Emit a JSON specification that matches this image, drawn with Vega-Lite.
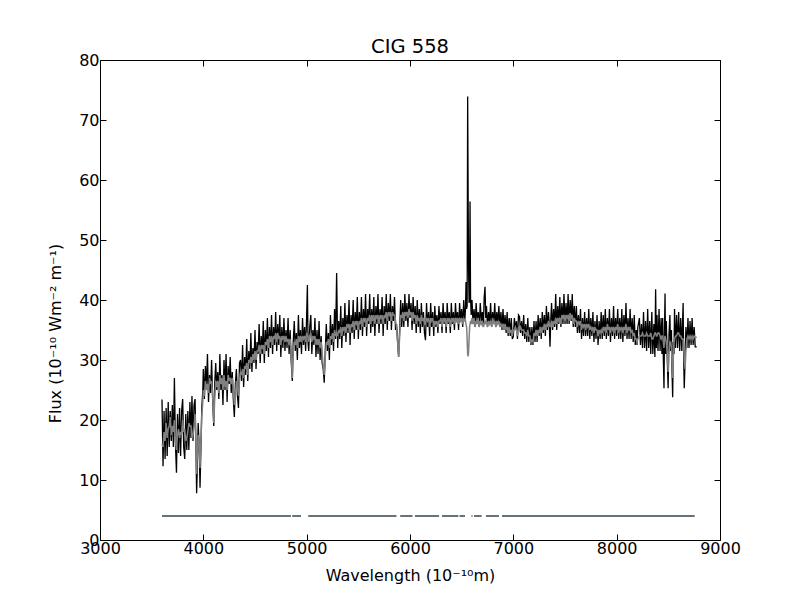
{
"$schema": "https://vega.github.io/schema/vega-lite/v6.json",
"width": 620, "height": 480,
"autosize": "none",
"padding": {"left": 100, "top": 60, "right": 80, "bottom": 60},
"background": "white",
"title": {"text": "CIG 558", "font": "DejaVu Sans", "fontSize": 19.5, "fontWeight": "normal", "color": "black", "offset": -20, "baseline": "alphabetic"},
"datasets": {
"spec": [
{"w":3600,"m":16.0,"o":23.4},{"w":3610,"m":15.5,"o":12.3},{"w":3620,"m":18.0,"o":21.5},{"w":3630,"m":16.5,"o":13.5},{"w":3640,"m":19.5,"o":22.0},{"w":3650,"m":17.0,"o":14.0},{"w":3660,"m":18.5,"o":23.0},{"w":3670,"m":19.0,"o":15.5},{"w":3680,"m":20.5,"o":21.5},{"w":3690,"m":17.5,"o":16.5},{"w":3700,"m":19.0,"o":22.5},{"w":3710,"m":18.0,"o":15.5},{"w":3720,"m":20.0,"o":27.0},{"w":3730,"m":16.5,"o":16.0},{"w":3740,"m":15.0,"o":11.2},{"w":3750,"m":17.5,"o":21.0},{"w":3760,"m":18.5,"o":14.5},{"w":3770,"m":17.0,"o":22.0},{"w":3780,"m":18.0,"o":14.0},{"w":3790,"m":17.5,"o":21.5},{"w":3800,"m":20.0,"o":23.5},{"w":3810,"m":18.0,"o":15.5},{"w":3820,"m":18.5,"o":13.5},{"w":3830,"m":16.5,"o":21.0},{"w":3840,"m":17.0,"o":15.0},{"w":3850,"m":18.0,"o":21.5},{"w":3860,"m":19.5,"o":15.0},{"w":3870,"m":19.0,"o":23.0},{"w":3880,"m":19.0,"o":17.0},{"w":3890,"m":17.0,"o":24.0},{"w":3900,"m":17.5,"o":16.5},{"w":3910,"m":19.0,"o":22.5},{"w":3920,"m":21.0,"o":23.5},{"w":3930,"m":15.0,"o":14.0},{"w":3935,"m":11.0,"o":7.8},{"w":3940,"m":13.5,"o":11.0},{"w":3950,"m":17.5,"o":19.5},{"w":3960,"m":16.0,"o":15.5},{"w":3968,"m":12.0,"o":8.7},{"w":3975,"m":15.5,"o":14.0},{"w":3985,"m":20.5,"o":22.0},{"w":3995,"m":23.0,"o":25.0},
{"w":4000,"m":25.0,"o":28.5},{"w":4010,"m":24.0,"o":23.5},{"w":4020,"m":26.5,"o":29.0},{"w":4030,"m":25.0,"o":25.5},{"w":4040,"m":26.0,"o":31.0},{"w":4050,"m":24.5,"o":23.0},{"w":4060,"m":27.0,"o":27.5},{"w":4070,"m":26.0,"o":24.5},{"w":4080,"m":26.5,"o":30.0},{"w":4090,"m":24.0,"o":23.5},{"w":4101,"m":19.5,"o":19.0},{"w":4110,"m":23.5,"o":26.0},{"w":4120,"m":26.5,"o":29.5},{"w":4130,"m":25.5,"o":25.0},{"w":4140,"m":26.5,"o":28.0},{"w":4150,"m":24.5,"o":23.5},{"w":4160,"m":27.5,"o":31.0},{"w":4170,"m":26.0,"o":25.0},{"w":4180,"m":27.0,"o":27.5},{"w":4190,"m":25.0,"o":22.5},{"w":4200,"m":27.5,"o":30.0},{"w":4210,"m":25.5,"o":25.0},{"w":4220,"m":26.5,"o":31.0},{"w":4230,"m":25.0,"o":23.0},{"w":4240,"m":27.5,"o":29.0},{"w":4250,"m":26.5,"o":26.0},{"w":4260,"m":27.0,"o":30.5},{"w":4270,"m":26.0,"o":24.5},{"w":4280,"m":27.0,"o":28.0},{"w":4290,"m":25.0,"o":23.5},{"w":4300,"m":22.5,"o":20.5},{"w":4310,"m":24.0,"o":26.0},{"w":4320,"m":26.5,"o":28.5},{"w":4330,"m":25.5,"o":24.0},{"w":4340,"m":24.0,"o":22.0},{"w":4350,"m":26.5,"o":29.5},{"w":4360,"m":28.0,"o":30.0},{"w":4370,"m":27.5,"o":26.5},{"w":4380,"m":28.5,"o":32.5},{"w":4390,"m":27.0,"o":25.5},{"w":4400,"m":29.0,"o":30.5},{"w":4410,"m":28.5,"o":27.5},{"w":4420,"m":29.5,"o":33.5},{"w":4430,"m":27.5,"o":26.5},{"w":4440,"m":30.0,"o":31.5},{"w":4450,"m":29.5,"o":28.5},{"w":4460,"m":30.5,"o":34.5},{"w":4470,"m":29.5,"o":28.0},{"w":4480,"m":31.0,"o":32.0},{"w":4490,"m":30.0,"o":29.5},{"w":4500,"m":31.5,"o":35.0},{"w":4510,"m":30.0,"o":28.5},{"w":4520,"m":31.5,"o":33.0},{"w":4530,"m":31.5,"o":31.0},{"w":4540,"m":32.5,"o":36.0},{"w":4550,"m":31.0,"o":29.5},{"w":4560,"m":32.5,"o":34.0},{"w":4570,"m":32.0,"o":31.0},{"w":4580,"m":32.5,"o":36.5},{"w":4590,"m":31.0,"o":29.5},{"w":4600,"m":33.0,"o":35.0},{"w":4610,"m":32.5,"o":31.5},{"w":4620,"m":33.5,"o":37.0},{"w":4630,"m":32.0,"o":30.5},{"w":4640,"m":34.0,"o":35.5},{"w":4650,"m":33.0,"o":32.0},{"w":4660,"m":34.0,"o":37.5},{"w":4670,"m":32.5,"o":31.0},{"w":4680,"m":34.0,"o":35.5},{"w":4690,"m":33.5,"o":32.5},{"w":4700,"m":34.5,"o":38.0},{"w":4710,"m":33.0,"o":31.5},{"w":4720,"m":34.5,"o":36.0},{"w":4730,"m":33.5,"o":32.5},{"w":4740,"m":34.0,"o":37.5},{"w":4750,"m":32.5,"o":30.5},{"w":4760,"m":34.0,"o":35.5},{"w":4770,"m":33.5,"o":32.0},{"w":4780,"m":34.0,"o":37.0},{"w":4790,"m":33.0,"o":31.5},{"w":4800,"m":34.0,"o":35.0},{"w":4810,"m":33.0,"o":32.0},{"w":4820,"m":33.5,"o":37.0},{"w":4830,"m":32.5,"o":31.0},{"w":4840,"m":33.5,"o":35.0},{"w":4850,"m":31.0,"o":30.0},{"w":4861,"m":27.0,"o":26.5},{"w":4870,"m":31.5,"o":33.0},{"w":4880,"m":33.0,"o":36.5},{"w":4890,"m":32.5,"o":31.5},{"w":4900,"m":33.5,"o":34.5},{"w":4910,"m":32.0,"o":30.0},{"w":4920,"m":34.0,"o":37.5},{"w":4930,"m":33.0,"o":32.0},{"w":4940,"m":34.0,"o":35.0},{"w":4950,"m":33.0,"o":31.0},{"w":4960,"m":34.0,"o":37.0},{"w":4970,"m":33.5,"o":32.5},{"w":4980,"m":34.0,"o":35.5},{"w":4990,"m":33.0,"o":31.5},
{"w":5000,"m":34.5,"o":37.5},{"w":5007,"m":34.0,"o":42.5},{"w":5013,"m":34.0,"o":33.0},{"w":5020,"m":33.0,"o":31.5},{"w":5030,"m":34.0,"o":35.5},{"w":5040,"m":34.5,"o":37.5},{"w":5050,"m":33.0,"o":31.0},{"w":5060,"m":34.0,"o":35.0},{"w":5070,"m":33.5,"o":32.5},{"w":5080,"m":34.0,"o":37.0},{"w":5090,"m":32.5,"o":30.5},{"w":5100,"m":33.5,"o":35.0},{"w":5110,"m":32.5,"o":31.0},{"w":5120,"m":33.5,"o":36.5},{"w":5130,"m":32.0,"o":30.0},{"w":5140,"m":33.0,"o":34.0},{"w":5150,"m":31.0,"o":29.5},{"w":5160,"m":29.0,"o":28.5},{"w":5170,"m":27.5,"o":26.2},{"w":5180,"m":30.5,"o":31.5},{"w":5190,"m":33.0,"o":36.0},{"w":5200,"m":32.5,"o":31.5},{"w":5210,"m":33.5,"o":34.5},{"w":5220,"m":32.0,"o":30.0},{"w":5230,"m":34.0,"o":37.5},{"w":5240,"m":33.5,"o":32.5},{"w":5250,"m":34.5,"o":36.0},{"w":5260,"m":33.0,"o":31.5},{"w":5270,"m":35.0,"o":38.5},{"w":5280,"m":34.0,"o":33.5},{"w":5290,"m":34.5,"o":44.5},{"w":5300,"m":34.0,"o":32.0},{"w":5310,"m":35.0,"o":36.5},{"w":5320,"m":34.5,"o":33.5},{"w":5330,"m":35.5,"o":39.0},{"w":5340,"m":34.0,"o":32.0},{"w":5350,"m":35.5,"o":37.0},{"w":5360,"m":35.0,"o":34.0},{"w":5370,"m":35.5,"o":39.5},{"w":5380,"m":34.5,"o":33.0},{"w":5390,"m":36.0,"o":37.5},{"w":5400,"m":35.5,"o":34.5},{"w":5410,"m":36.0,"o":40.0},{"w":5420,"m":34.5,"o":32.5},{"w":5430,"m":36.0,"o":37.5},{"w":5440,"m":35.5,"o":34.5},{"w":5450,"m":36.5,"o":40.0},{"w":5460,"m":35.0,"o":33.5},{"w":5470,"m":36.5,"o":38.0},{"w":5480,"m":36.0,"o":35.0},{"w":5490,"m":36.5,"o":40.5},{"w":5500,"m":35.0,"o":33.5},{"w":5510,"m":36.5,"o":38.0},{"w":5520,"m":36.0,"o":35.0},{"w":5530,"m":37.0,"o":40.5},{"w":5540,"m":35.5,"o":34.0},{"w":5550,"m":37.0,"o":38.5},{"w":5560,"m":36.5,"o":35.5},{"w":5570,"m":37.0,"o":41.0},{"w":5580,"m":35.5,"o":34.0},{"w":5590,"m":37.0,"o":38.5},{"w":5600,"m":36.5,"o":36.0},{"w":5610,"m":37.5,"o":41.0},{"w":5620,"m":36.0,"o":34.5},{"w":5630,"m":37.5,"o":38.5},{"w":5640,"m":36.5,"o":35.5},{"w":5650,"m":37.5,"o":40.5},{"w":5660,"m":36.0,"o":34.0},{"w":5670,"m":37.5,"o":39.0},{"w":5680,"m":37.0,"o":36.0},{"w":5690,"m":37.5,"o":41.0},{"w":5700,"m":36.0,"o":34.5},{"w":5710,"m":37.5,"o":38.5},{"w":5720,"m":37.0,"o":36.0},{"w":5730,"m":37.5,"o":40.5},{"w":5740,"m":36.0,"o":34.0},{"w":5750,"m":37.5,"o":39.0},{"w":5760,"m":37.0,"o":36.0},{"w":5770,"m":38.0,"o":41.0},{"w":5780,"m":36.5,"o":35.0},{"w":5790,"m":38.0,"o":39.5},{"w":5800,"m":37.5,"o":36.5},{"w":5810,"m":38.0,"o":41.0},{"w":5820,"m":36.5,"o":35.0},{"w":5830,"m":38.0,"o":39.0},{"w":5840,"m":37.5,"o":36.5},{"w":5850,"m":37.5,"o":40.5},{"w":5860,"m":36.5,"o":35.0},{"w":5870,"m":35.5,"o":36.0},{"w":5880,"m":33.0,"o":33.0},{"w":5890,"m":30.5,"o":30.5},{"w":5900,"m":34.0,"o":35.0},{"w":5910,"m":37.5,"o":40.0},{"w":5920,"m":37.0,"o":35.5},{"w":5930,"m":38.0,"o":39.5},{"w":5940,"m":36.5,"o":35.5},{"w":5950,"m":38.0,"o":41.0},{"w":5960,"m":37.5,"o":36.5},{"w":5970,"m":38.0,"o":39.5},{"w":5980,"m":37.0,"o":35.5},{"w":5990,"m":38.5,"o":41.0},
{"w":6000,"m":37.5,"o":37.0},{"w":6010,"m":38.0,"o":39.5},{"w":6020,"m":36.5,"o":35.0},{"w":6030,"m":38.0,"o":40.5},{"w":6040,"m":37.0,"o":36.0},{"w":6050,"m":37.5,"o":39.0},{"w":6060,"m":36.0,"o":34.5},{"w":6070,"m":37.5,"o":40.0},{"w":6080,"m":36.5,"o":35.5},{"w":6090,"m":37.0,"o":38.5},{"w":6100,"m":36.0,"o":34.5},{"w":6110,"m":37.5,"o":39.5},{"w":6120,"m":36.5,"o":35.5},{"w":6130,"m":37.0,"o":38.0},{"w":6140,"m":36.0,"o":34.5},{"w":6150,"m":36.0,"o":33.3},{"w":6160,"m":37.0,"o":39.5},{"w":6170,"m":36.5,"o":35.5},{"w":6180,"m":37.0,"o":38.0},{"w":6190,"m":35.5,"o":34.0},{"w":6200,"m":37.0,"o":39.5},{"w":6210,"m":36.5,"o":35.5},{"w":6220,"m":37.0,"o":38.0},{"w":6230,"m":35.5,"o":34.0},{"w":6240,"m":36.5,"o":39.0},{"w":6250,"m":36.0,"o":35.5},{"w":6260,"m":36.5,"o":37.5},{"w":6270,"m":35.5,"o":34.5},{"w":6280,"m":36.5,"o":39.0},{"w":6290,"m":36.5,"o":36.0},{"w":6300,"m":37.0,"o":38.0},{"w":6310,"m":35.5,"o":34.5},{"w":6320,"m":37.0,"o":39.5},{"w":6330,"m":36.5,"o":36.0},{"w":6340,"m":37.0,"o":38.0},{"w":6350,"m":35.5,"o":34.5},{"w":6360,"m":37.0,"o":39.5},{"w":6370,"m":36.5,"o":36.0},{"w":6380,"m":37.0,"o":38.0},{"w":6390,"m":35.5,"o":34.5},{"w":6400,"m":37.0,"o":39.5},{"w":6410,"m":36.5,"o":36.0},{"w":6420,"m":37.0,"o":38.0},{"w":6430,"m":36.0,"o":35.0},{"w":6440,"m":37.0,"o":39.5},{"w":6450,"m":36.5,"o":36.5},{"w":6460,"m":37.0,"o":38.0},{"w":6470,"m":36.0,"o":35.0},{"w":6480,"m":37.0,"o":39.5},{"w":6490,"m":36.5,"o":36.5},{"w":6500,"m":37.0,"o":38.5},{"w":6510,"m":36.0,"o":35.5},{"w":6520,"m":37.0,"o":40.0},{"w":6530,"m":36.5,"o":36.5},{"w":6537,"m":36.5,"o":38.5},{"w":6542,"m":36.0,"o":43.0},{"w":6548,"m":35.5,"o":38.5},{"w":6553,"m":33.5,"o":39.0},{"w":6558,"m":31.0,"o":73.9},{"w":6563,"m":30.6,"o":56.0},{"w":6567,"m":31.5,"o":45.0},{"w":6572,"m":33.5,"o":39.5},{"w":6577,"m":35.5,"o":40.0},{"w":6581,"m":36.0,"o":56.4},{"w":6586,"m":36.5,"o":40.5},{"w":6592,"m":36.0,"o":37.5},{"w":6600,"m":37.0,"o":40.0},{"w":6610,"m":36.0,"o":36.0},{"w":6620,"m":37.0,"o":38.5},{"w":6630,"m":35.5,"o":35.5},{"w":6640,"m":36.5,"o":39.5},{"w":6650,"m":36.0,"o":36.5},{"w":6660,"m":37.0,"o":38.0},{"w":6670,"m":35.5,"o":35.5},{"w":6680,"m":36.5,"o":39.5},{"w":6690,"m":36.0,"o":36.5},{"w":6700,"m":36.5,"o":38.0},{"w":6710,"m":35.5,"o":35.5},{"w":6718,"m":36.0,"o":40.5},{"w":6726,"m":36.5,"o":42.2},{"w":6733,"m":36.0,"o":37.0},{"w":6740,"m":36.5,"o":39.0},{"w":6750,"m":35.5,"o":35.5},{"w":6760,"m":36.5,"o":38.0},{"w":6770,"m":36.0,"o":36.0},{"w":6780,"m":36.5,"o":39.5},{"w":6790,"m":35.5,"o":35.5},{"w":6800,"m":37.0,"o":38.0},{"w":6810,"m":36.0,"o":36.0},{"w":6820,"m":36.5,"o":39.5},{"w":6830,"m":35.5,"o":35.5},{"w":6840,"m":36.5,"o":38.0},{"w":6850,"m":36.0,"o":36.0},{"w":6860,"m":36.5,"o":39.0},{"w":6870,"m":35.5,"o":35.5},{"w":6880,"m":36.0,"o":38.0},{"w":6890,"m":35.5,"o":35.0},{"w":6900,"m":36.0,"o":38.5},{"w":6910,"m":35.0,"o":35.0},{"w":6920,"m":36.0,"o":37.5},{"w":6930,"m":35.0,"o":34.5},{"w":6940,"m":35.5,"o":38.0},{"w":6950,"m":34.5,"o":34.0},{"w":6960,"m":35.5,"o":37.0},{"w":6970,"m":34.5,"o":34.0},{"w":6980,"m":35.0,"o":37.0},{"w":6990,"m":34.0,"o":33.5},
{"w":7000,"m":35.0,"o":33.9},{"w":7010,"m":35.0,"o":37.0},{"w":7020,"m":35.5,"o":35.0},{"w":7030,"m":35.0,"o":36.5},{"w":7040,"m":34.0,"o":33.5},{"w":7050,"m":35.5,"o":37.5},{"w":7060,"m":35.0,"o":37.2},{"w":7070,"m":35.5,"o":34.5},{"w":7080,"m":35.0,"o":36.5},{"w":7090,"m":35.0,"o":34.0},{"w":7100,"m":35.0,"o":37.5},{"w":7110,"m":34.5,"o":33.5},{"w":7120,"m":34.5,"o":36.0},{"w":7130,"m":34.0,"o":33.0},{"w":7140,"m":35.0,"o":37.0},{"w":7150,"m":34.0,"o":33.0},{"w":7160,"m":34.0,"o":35.5},{"w":7170,"m":33.0,"o":32.5},{"w":7180,"m":33.3,"o":35.5},{"w":7190,"m":33.0,"o":32.5},{"w":7200,"m":34.5,"o":36.5},{"w":7210,"m":34.0,"o":33.0},{"w":7220,"m":35.0,"o":36.5},{"w":7230,"m":34.0,"o":33.0},{"w":7240,"m":35.0,"o":37.5},{"w":7250,"m":34.5,"o":34.0},{"w":7260,"m":35.5,"o":37.0},{"w":7270,"m":34.5,"o":33.5},{"w":7280,"m":35.5,"o":38.0},{"w":7290,"m":35.0,"o":34.5},{"w":7300,"m":36.0,"o":37.5},{"w":7310,"m":35.0,"o":34.0},{"w":7320,"m":36.0,"o":39.0},{"w":7330,"m":35.5,"o":35.0},{"w":7340,"m":36.5,"o":38.0},{"w":7348,"m":36.0,"o":36.0},{"w":7355,"m":35.5,"o":32.2},{"w":7362,"m":36.0,"o":36.5},{"w":7370,"m":36.5,"o":39.5},{"w":7380,"m":35.5,"o":35.0},{"w":7390,"m":36.5,"o":38.5},{"w":7400,"m":36.0,"o":35.5},{"w":7410,"m":37.0,"o":41.0},{"w":7420,"m":36.0,"o":35.0},{"w":7430,"m":37.0,"o":39.0},{"w":7440,"m":36.5,"o":36.0},{"w":7450,"m":37.0,"o":40.5},{"w":7460,"m":36.0,"o":35.5},{"w":7470,"m":37.5,"o":39.5},{"w":7480,"m":37.0,"o":36.0},{"w":7490,"m":37.5,"o":41.0},{"w":7500,"m":36.5,"o":36.0},{"w":7510,"m":37.5,"o":39.5},{"w":7520,"m":37.0,"o":36.0},{"w":7530,"m":37.5,"o":41.0},{"w":7540,"m":36.5,"o":36.0},{"w":7550,"m":37.8,"o":40.0},{"w":7560,"m":37.0,"o":36.5},{"w":7570,"m":37.5,"o":41.0},{"w":7580,"m":36.0,"o":35.5},{"w":7590,"m":37.0,"o":39.0},{"w":7600,"m":36.5,"o":35.5},{"w":7610,"m":36.5,"o":39.0},{"w":7620,"m":35.5,"o":34.5},{"w":7630,"m":36.5,"o":37.5},{"w":7640,"m":36.0,"o":34.5},{"w":7650,"m":36.5,"o":38.5},{"w":7660,"m":35.0,"o":33.5},{"w":7670,"m":36.0,"o":37.0},{"w":7680,"m":35.5,"o":34.0},{"w":7690,"m":36.0,"o":38.0},{"w":7700,"m":35.0,"o":34.0},{"w":7710,"m":36.0,"o":37.0},{"w":7720,"m":35.5,"o":34.0},{"w":7730,"m":36.0,"o":38.5},{"w":7740,"m":35.0,"o":33.5},{"w":7750,"m":35.5,"o":37.0},{"w":7760,"m":35.0,"o":34.0},{"w":7770,"m":35.5,"o":38.0},{"w":7780,"m":34.5,"o":33.0},{"w":7790,"m":35.5,"o":36.5},{"w":7800,"m":35.0,"o":33.5},{"w":7810,"m":35.0,"o":37.5},{"w":7820,"m":34.0,"o":32.5},{"w":7830,"m":35.0,"o":36.5},{"w":7840,"m":34.5,"o":33.5},{"w":7850,"m":35.0,"o":38.0},{"w":7860,"m":34.5,"o":33.5},{"w":7870,"m":35.5,"o":37.5},{"w":7880,"m":35.0,"o":34.0},{"w":7890,"m":35.5,"o":38.5},{"w":7900,"m":34.5,"o":33.5},{"w":7910,"m":36.0,"o":37.0},{"w":7920,"m":35.0,"o":34.0},{"w":7930,"m":35.5,"o":38.5},{"w":7940,"m":34.5,"o":33.0},{"w":7950,"m":35.5,"o":37.0},{"w":7960,"m":35.0,"o":34.0},{"w":7970,"m":35.5,"o":39.0},{"w":7980,"m":34.5,"o":33.5},{"w":7990,"m":35.5,"o":37.0},
{"w":8000,"m":35.0,"o":34.0},{"w":8010,"m":36.0,"o":38.5},{"w":8020,"m":34.5,"o":33.5},{"w":8030,"m":35.5,"o":37.0},{"w":8040,"m":35.0,"o":33.5},{"w":8050,"m":35.5,"o":38.5},{"w":8060,"m":34.5,"o":33.0},{"w":8070,"m":35.5,"o":37.5},{"w":8080,"m":35.0,"o":34.0},{"w":8090,"m":36.0,"o":39.5},{"w":8100,"m":34.5,"o":33.5},{"w":8110,"m":35.5,"o":37.0},{"w":8120,"m":35.0,"o":33.5},{"w":8130,"m":35.5,"o":38.5},{"w":8140,"m":34.5,"o":33.5},{"w":8150,"m":35.0,"o":37.0},{"w":8160,"m":34.0,"o":33.0},{"w":8170,"m":34.5,"o":37.5},{"w":8180,"m":33.5,"o":32.5},{"w":8190,"m":33.5,"o":35.0},{"w":8197,"m":33.0,"o":32.5},{"w":8205,"m":33.5,"o":35.5},{"w":8220,"m":34.0,"o":37.0},{"w":8230,"m":34.0,"o":32.5},{"w":8240,"m":34.0,"o":36.0},{"w":8250,"m":34.5,"o":32.0},{"w":8260,"m":34.0,"o":38.0},{"w":8270,"m":34.0,"o":32.0},{"w":8280,"m":34.0,"o":36.5},{"w":8290,"m":34.5,"o":31.5},{"w":8300,"m":34.0,"o":38.5},{"w":8310,"m":34.0,"o":32.0},{"w":8320,"m":34.0,"o":36.5},{"w":8330,"m":34.5,"o":31.0},{"w":8340,"m":33.5,"o":38.0},{"w":8350,"m":33.5,"o":31.0},{"w":8360,"m":34.0,"o":36.0},{"w":8370,"m":34.5,"o":30.5},{"w":8377,"m":34.5,"o":41.8},{"w":8384,"m":34.0,"o":32.0},{"w":8390,"m":34.0,"o":37.5},{"w":8400,"m":34.5,"o":31.5},{"w":8410,"m":34.5,"o":38.5},{"w":8420,"m":34.0,"o":31.5},{"w":8430,"m":33.5,"o":37.0},{"w":8438,"m":34.0,"o":31.0},{"w":8445,"m":34.0,"o":37.0},{"w":8452,"m":33.0,"o":30.0},{"w":8458,"m":32.0,"o":25.3},{"w":8463,"m":33.5,"o":35.0},{"w":8468,"m":34.0,"o":41.1},{"w":8474,"m":33.5,"o":31.0},{"w":8480,"m":33.0,"o":36.5},{"w":8490,"m":31.0,"o":30.0},{"w":8498,"m":28.0,"o":25.3},{"w":8506,"m":31.5,"o":34.0},{"w":8515,"m":33.0,"o":37.5},{"w":8522,"m":33.0,"o":31.5},{"w":8530,"m":32.0,"o":35.0},{"w":8536,"m":30.0,"o":28.0},{"w":8542,"m":27.0,"o":23.8},{"w":8548,"m":30.5,"o":33.0},{"w":8555,"m":33.0,"o":31.0},{"w":8560,"m":33.5,"o":38.5},{"w":8570,"m":34.0,"o":32.0},{"w":8580,"m":34.0,"o":37.5},{"w":8590,"m":34.5,"o":32.0},{"w":8600,"m":34.5,"o":38.0},{"w":8610,"m":34.0,"o":31.5},{"w":8620,"m":34.0,"o":37.0},{"w":8630,"m":33.5,"o":31.5},{"w":8643,"m":33.5,"o":39.5},{"w":8648,"m":32.5,"o":31.0},{"w":8654,"m":30.0,"o":25.3},{"w":8662,"m":28.5,"o":30.0},{"w":8670,"m":31.5,"o":35.5},{"w":8680,"m":33.5,"o":32.0},{"w":8690,"m":34.0,"o":37.0},{"w":8700,"m":33.5,"o":32.0},{"w":8710,"m":34.0,"o":36.5},{"w":8720,"m":33.5,"o":32.5},{"w":8730,"m":34.0,"o":37.0},{"w":8740,"m":33.5,"o":32.5},{"w":8750,"m":34.0,"o":35.5},{"w":8760,"m":33.8,"o":32.2},{"w":8775,"m":33.8,"o":32.2}
],
"mask": [
{"start":3600,"end":4848,"flux":4},{"start":4860,"end":4945,"flux":4},{"start":5015,"end":5869,"flux":4},{"start":5905,"end":6024,"flux":4},{"start":6048,"end":6281,"flux":4},{"start":6310,"end":6468,"flux":4},{"start":6479,"end":6532,"flux":4},{"start":6595,"end":6605,"flux":4},{"start":6619,"end":6693,"flux":4},{"start":6735,"end":6861,"flux":4},{"start":6890,"end":8755,"flux":4}
]
},
"layer": [
{"data": {"name": "spec"},
 "mark": {"type": "line", "color": "black", "strokeWidth": 1.3},
 "encoding": {
  "x": {"field": "w", "type": "quantitative", "scale": {"domain": [3000, 9000], "nice": false, "zero": false},
        "axis": {"orient": "bottom", "values": [3000,4000,5000,6000,7000,8000,9000], "format": "d", "title": "Wavelength (10⁻¹⁰m)", "titleY": 40, "titleBaseline": "alphabetic", "labelPadding": 6}},
  "y": {"field": "o", "type": "quantitative", "scale": {"domain": [0, 80], "nice": false, "zero": false},
        "axis": {"orient": "left", "values": [0,10,20,30,40,50,60,70,80], "format": "d", "title": "Flux (10⁻¹⁰ Wm⁻² m⁻¹)", "titleX": -40, "titleY": 273, "titleBaseline": "alphabetic", "labelPadding": 7}}
 }},
{"data": {"name": "spec"},
 "mark": {"type": "line", "color": "#808080", "strokeWidth": 1.5},
 "encoding": {
  "x": {"field": "w", "type": "quantitative", "scale": {"domain": [3000, 9000], "nice": false, "zero": false},
        "axis": {"orient": "top", "values": [3000,4000,5000,6000,7000,8000,9000], "labels": false, "title": null}},
  "y": {"field": "m", "type": "quantitative", "scale": {"domain": [0, 80], "nice": false, "zero": false},
        "axis": {"orient": "right", "values": [0,10,20,30,40,50,60,70,80], "labels": false, "title": null}}
 }},
{"data": {"name": "mask"},
 "mark": {"type": "rule", "color": "#66737a", "strokeWidth": 2},
 "encoding": {
  "x": {"field": "start", "type": "quantitative", "scale": {"domain": [3000, 9000], "nice": false, "zero": false}, "axis": null},
  "x2": {"field": "end"},
  "y": {"field": "flux", "type": "quantitative", "scale": {"domain": [0, 80], "nice": false, "zero": false}, "axis": null}
 }}
],
"resolve": {"axis": {"x": "independent", "y": "independent"}},
"config": {
 "view": {"stroke": "black", "strokeWidth": 1},
 "axis": {"domain": false, "grid": false, "ticks": true, "tickSize": -6, "tickColor": "black", "tickWidth": 1,
          "labelFont": "DejaVu Sans", "labelFontSize": 16, "labelColor": "black", "labelFlush": false, "labelOverlap": false, "labelBound": false,
          "titleFont": "DejaVu Sans", "titleFontSize": 16, "titleFontWeight": "normal", "titleColor": "black"}
}
}
